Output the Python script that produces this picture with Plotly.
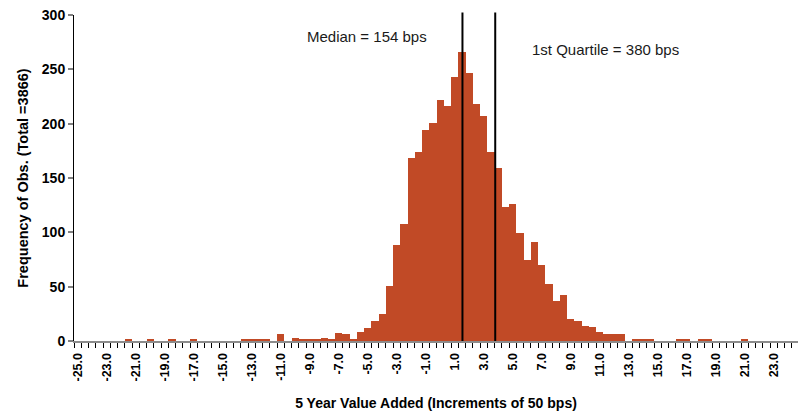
import plotly.graph_objects as go

# Histogram bins (percent, 50 bps wide) and observation counts per bin
bins = [
    -25.0, -24.5, -24.0, -23.5, -23.0, -22.5, -22.0, -21.5, -21.0, -20.5,
    -20.0, -19.5, -19.0, -18.5, -18.0, -17.5, -17.0, -16.5, -16.0, -15.5,
    -15.0, -14.5, -14.0, -13.5, -13.0, -12.5, -12.0, -11.5, -11.0, -10.5,
    -10.0, -9.5, -9.0, -8.5, -8.0, -7.5, -7.0, -6.5, -6.0, -5.5,
    -5.0, -4.5, -4.0, -3.5, -3.0, -2.5, -2.0, -1.5, -1.0, -0.5,
    0.0, 0.5, 1.0, 1.5, 2.0, 2.5, 3.0, 3.5, 4.0, 4.5,
    5.0, 5.5, 6.0, 6.5, 7.0, 7.5, 8.0, 8.5, 9.0, 9.5,
    10.0, 10.5, 11.0, 11.5, 12.0, 12.5, 13.0, 13.5, 14.0, 14.5,
    15.0, 15.5, 16.0, 16.5, 17.0, 17.5, 18.0, 18.5, 19.0, 19.5,
    20.0, 20.5, 21.0, 21.5, 22.0, 22.5, 23.0, 23.5, 24.0, 24.5,
    25.0,
]
counts = [
    0, 0, 0, 0, 0, 0, 0, 1, 0, 0,
    1, 0, 0, 1, 0, 0, 1, 0, 0, 0,
    0, 0, 0, 2, 1, 1, 1, 0, 6, 0,
    3, 2, 2, 1, 3, 1, 7, 6, 2, 8,
    12, 18, 25, 51, 88, 108, 168, 174, 194, 201,
    222, 216, 243, 266, 247, 218, 207, 174, 159, 123,
    126, 99, 75, 91, 70, 52, 37, 42, 20, 18,
    14, 13, 8, 6, 6, 6, 0, 2, 2, 2,
    0, 0, 0, 2, 1, 0, 1, 2, 0, 0,
    0, 0, 2, 0, 0, 0, 0, 0, 0, 0,
    0,
]
x_tick_labels = [
    "-25.0", "-23.0", "-21.0", "-19.0", "-17.0", "-15.0", "-13.0",
    "-11.0", "-9.0", "-7.0", "-5.0", "-3.0", "-1.0", "1.0", "3.0",
    "5.0", "7.0", "9.0", "11.0", "13.0", "15.0", "17.0", "19.0",
    "21.0", "23.0", "25.0",
]
y_tick_values = [0, 50, 100, 150, 200, 250, 300]

# Summary statistics marked on the chart (basis points)
median_bps = 154
quartile_bps = 380

BAR_COLOR = "#C14A26"
FONT = "Liberation Sans, Arial, sans-serif"

fig = go.Figure(
    go.Bar(
        x=bins,
        y=counts,
        width=0.5,
        marker=dict(color=BAR_COLOR, line=dict(width=0)),
        hoverinfo="x+y",
    )
)

# Vertical reference lines at the median and first quartile
for bps in (median_bps, quartile_bps):
    fig.add_shape(
        type="line",
        xref="x", yref="paper",
        x0=bps / 100, x1=bps / 100,
        y0=0, y1=1.008,
        line=dict(color="black", width=2),
        layer="above",
    )

fig.add_annotation(
    x=-9.3, y=280, xref="x", yref="y",
    text=f"Median = {median_bps} bps",
    showarrow=False, xanchor="left", yanchor="middle",
    font=dict(family=FONT, size=15, color="#1a1a1a"),
)
fig.add_annotation(
    x=6.2, y=268, xref="x", yref="y",
    text=f"1st Quartile = {quartile_bps} bps",
    showarrow=False, xanchor="left", yanchor="middle",
    font=dict(family=FONT, size=15, color="#1a1a1a"),
)

fig.update_layout(
    width=798,
    height=411,
    margin=dict(l=74, r=0, t=15, b=70),
    paper_bgcolor="white",
    plot_bgcolor="white",
    bargap=0,
    showlegend=False,
    font=dict(family=FONT, color="black"),
)

fig.update_xaxes(
    range=[-25.25, 24.68],
    tickmode="array",
    tickvals=[float(t) for t in x_tick_labels],
    ticktext=x_tick_labels,
    tickangle=-90,
    tickfont=dict(family=FONT, size=12.5, weight="bold", color="black"),
    ticks="outside",
    ticklen=5,
    tickcolor="rgba(0,0,0,0)",
    minor=dict(
        ticks="outside", ticklen=5, tickwidth=1, tickcolor="black",
        tickmode="linear", tick0=-25.25, dtick=0.5, showgrid=False,
    ),
    showline=True,
    linecolor="#8c8c8c",
    linewidth=2,
    showgrid=False,
    zeroline=False,
    title=dict(
        text="5 Year Value Added (Increments of 50 bps)",
        font=dict(family=FONT, size=14, weight="bold", color="black"),
        standoff=18,
    ),
)

fig.update_yaxes(
    range=[0, 300],
    tickmode="array",
    tickvals=y_tick_values,
    tickfont=dict(family=FONT, size=14, weight="bold", color="black"),
    ticks="outside",
    ticklen=5,
    tickwidth=1.5,
    tickcolor="#808080",
    showline=True,
    linecolor="black",
    linewidth=1,
    showgrid=False,
    zeroline=False,
    title=dict(
        text="Frequency of Obs. (Total =3866)",
        font=dict(family=FONT, size=14.5, weight="bold", color="black"),
        standoff=9,
    ),
)

fig.write_html("out.html")
